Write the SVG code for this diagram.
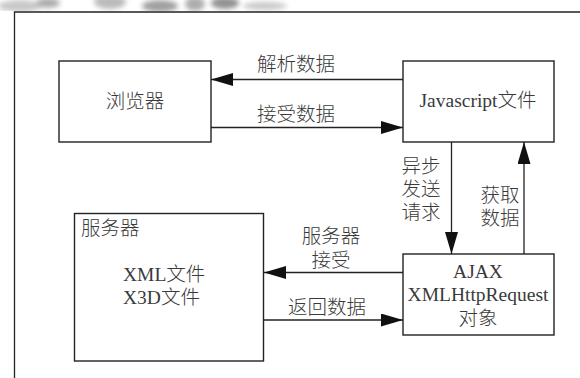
<svg xmlns="http://www.w3.org/2000/svg" width="580" height="378" viewBox="0 0 580 378">
<style>
.box{fill:#fff;stroke:#222;stroke-width:1.4}
.ln{stroke:#222;stroke-width:1.3;fill:none}
.t{font-family:"Liberation Serif","Noto Sans CJK SC",serif;font-size:19.5px;fill:#3a3a3a;font-weight:300}
.c{text-anchor:middle}
</style>
<defs>
<marker id="ah" viewBox="0 0 22 13" refX="22" refY="6.5" markerWidth="22" markerHeight="13" markerUnits="userSpaceOnUse" orient="auto">
<path d="M0,0 L22,6.5 L0,13 Z" fill="#111"/>
</marker>
<filter id="bl" x="-20%" y="-50%" width="140%" height="200%"><feGaussianBlur stdDeviation="2.5"/></filter>
<clipPath id="topclip"><rect x="0" y="0" width="300" height="11"/></clipPath>
</defs>
<rect width="580" height="378" fill="#fff"/>
<g id="decoration" clip-path="url(#topclip)">
<g filter="url(#bl)" opacity="0.8">
<ellipse cx="20" cy="6" rx="22" ry="6" fill="#bbb"/>
<ellipse cx="48" cy="3" rx="12" ry="5" fill="#999"/>
<ellipse cx="110" cy="2" rx="16" ry="7" fill="#aaa"/>
<ellipse cx="160" cy="6" rx="18" ry="6" fill="#888"/>
<ellipse cx="195" cy="4" rx="10" ry="7" fill="#999"/>
<ellipse cx="225" cy="3" rx="14" ry="6" fill="#777"/>
<ellipse cx="265" cy="6" rx="22" ry="4" fill="#bbb"/>
</g>
</g>
<g id="frame">
<path class="ln" d="M14.5,378 V12 H580" stroke="#444" stroke-width="1.6"/>
</g>
<g id="connectors">
<line class="ln" x1="403" y1="79.5" x2="211" y2="79.5" marker-end="url(#ah)"/>
<line class="ln" x1="211" y1="127.5" x2="403" y2="127.5" marker-end="url(#ah)"/>
<line class="ln" x1="451.5" y1="142" x2="451.5" y2="254" marker-end="url(#ah)"/>
<line class="ln" x1="524" y1="254" x2="524" y2="142" marker-end="url(#ah)"/>
<line class="ln" x1="403" y1="272.5" x2="264" y2="272.5" marker-end="url(#ah)"/>
<line class="ln" x1="264" y1="320" x2="403" y2="320" marker-end="url(#ah)"/>
<text class="t c" x="296" y="71">解析数据</text>
<text class="t c" x="296" y="121">接受数据</text>
<text class="t c" x="421" y="173">异步</text>
<text class="t c" x="421" y="196">发送</text>
<text class="t c" x="421" y="219">请求</text>
<text class="t c" x="500" y="202">获取</text>
<text class="t c" x="500" y="225">数据</text>
<text class="t c" x="331" y="243">服务器</text>
<text class="t c" x="331" y="267">接受</text>
<text class="t c" x="327" y="314">返回数据</text>
</g>
<g id="browser">
<rect class="box" x="59" y="61" width="152" height="81"/>
<text class="t c" x="135" y="108">浏览器</text>
</g>
<g id="javascript">
<rect class="box" x="403" y="61" width="151" height="81"/>
<text class="t c" x="478" y="107">Javascript文件</text>
</g>
<g id="server">
<rect class="box" x="74.5" y="213.5" width="189" height="147.5"/>
<text class="t" x="81" y="235">服务器</text>
<text class="t" x="123" y="281">XML文件</text>
<text class="t" x="123" y="304">X3D文件</text>
</g>
<g id="ajax">
<rect class="box" x="403" y="254" width="151" height="81"/>
<text class="t c" x="478" y="278">AJAX</text>
<text class="t c" x="478" y="301">XMLHttpRequest</text>
<text class="t c" x="478" y="325">对象</text>
</g>
</svg>
